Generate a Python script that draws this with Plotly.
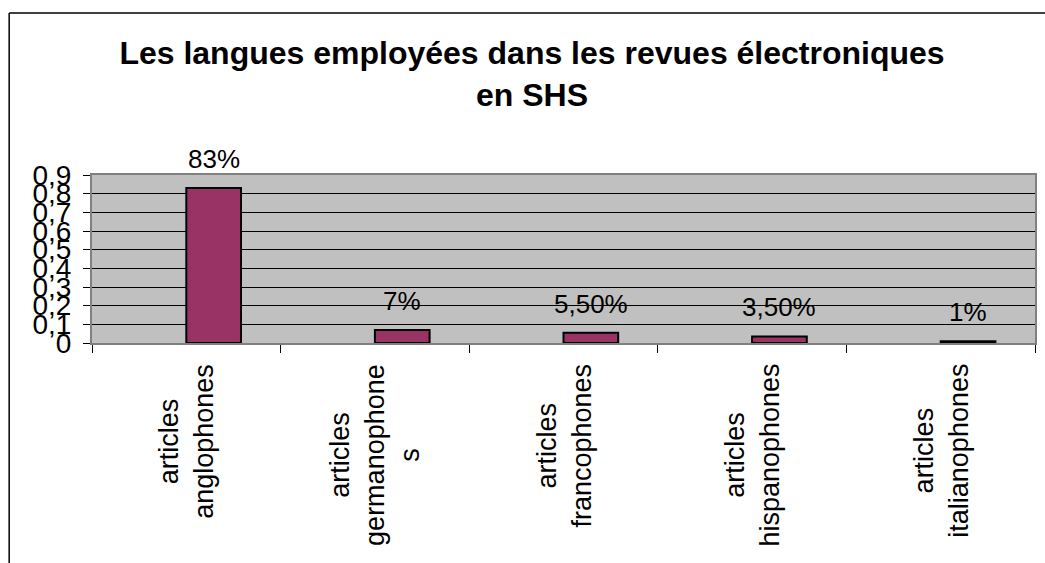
import plotly.graph_objects as go

categories = ["articles anglophones", "articles germanophones", "articles francophones",
              "articles hispanophones", "articles italianophones"]
cat_labels = ["articles<br>anglophones", "articles<br>germanophone<br>s", "articles<br>francophones",
              "articles<br>hispanophones", "articles<br>italianophones"]
values = [0.83, 0.07, 0.055, 0.035, 0.01]
value_labels = ["83%", "7%", "5,50%", "3,50%", "1%"]
y_ticks = [0, 0.1, 0.2, 0.3, 0.4, 0.5, 0.6, 0.7, 0.8, 0.9]

W, H = 1045, 563
L, R, T, B = 92, 8, 175, 220
FONT = "Liberation Sans, Arial, sans-serif"
BAR_W = 0.29

fig = go.Figure()
fig.add_trace(go.Bar(
    x=categories, y=values, width=BAR_W, offset=0,
    marker=dict(color="#993366", line=dict(color="black", width=2)),
    hoverinfo="skip",
))

annotations = []
for i, (v, t) in enumerate(zip(values, value_labels)):
    annotations.append(dict(x=i + BAR_W / 2, y=v, xref="x", yref="y", text=t,
                            showarrow=False, yanchor="bottom", yshift=12,
                            font=dict(family=FONT, size=26, color="black")))
for i, t in enumerate(cat_labels):
    annotations.append(dict(x=i, y=0, xref="x", yref="y", text=t, textangle=-90,
                            showarrow=False, yanchor="top", xanchor="center", align="center",
                            yshift=-19,
                            font=dict(family=FONT, size=27, color="black")))

pw, ph = W - L - R, H - T - B
fx0 = (9 - L) / pw
fy1 = 1 + (T - 13) / ph

fig.update_layout(
    width=W, height=H,
    margin=dict(l=L, r=R, t=T, b=B, pad=0),
    paper_bgcolor="white",
    plot_bgcolor="#C0C0C0",
    separators=", ",
    showlegend=False,
    title=dict(text="<b>Les langues employées dans les revues électroniques<br>en SHS</b>",
               x=532 / W, xanchor="center", xref="container",
               y=1 - 64 / H, yanchor="top", yref="container",
               font=dict(family=FONT, size=32, color="black")),
    xaxis=dict(type="category", showticklabels=False, ticks="outside", tickson="boundaries",
               ticklen=8, tickcolor="black", tickwidth=1,
               showline=True, linecolor="#808080", linewidth=2, mirror=True,
               showgrid=False, range=[-0.5, 4.5]),
    yaxis=dict(range=[0, 0.9], tickvals=y_ticks, ticks="outside", ticklen=7,
               tickcolor="black", tickwidth=1, ticklabelstandoff=6,
               showline=True, linecolor="#808080", linewidth=2, mirror=True,
               showgrid=True, gridcolor="black", gridwidth=1, zeroline=False,
               tickfont=dict(family=FONT, size=28, color="black")),
    annotations=annotations,
    shapes=[
        dict(type="line", xref="paper", yref="paper", x0=fx0, x1=1.2, y0=fy1, y1=fy1,
             line=dict(color="black", width=1.5)),
        dict(type="line", xref="paper", yref="paper", x0=fx0, x1=fx0, y0=-2, y1=fy1,
             line=dict(color="black", width=1.5)),
    ],
)

fig.write_html("out.html", config={"displayModeBar": False},
               post_script="document.body.style.margin='0';")
